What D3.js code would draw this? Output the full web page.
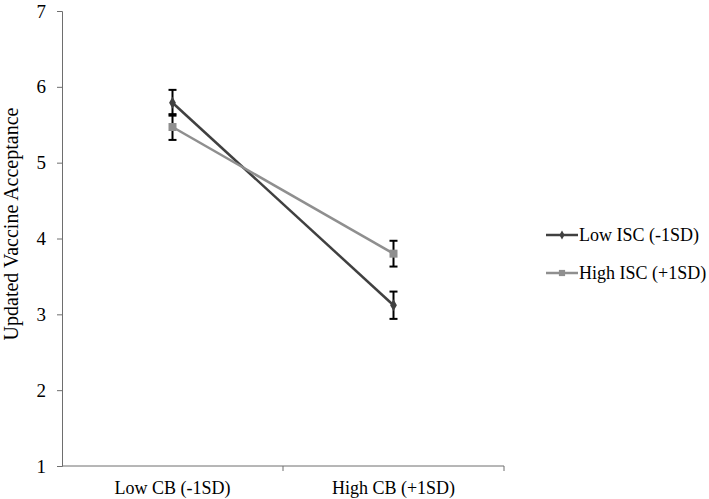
<!DOCTYPE html>
<html>
<head>
<meta charset="utf-8">
<script src="https://cdn.jsdelivr.net/npm/d3@7"></script>
<style>
body { margin: 0; background: #fff; }
text { font-family: "Liberation Serif", "Times New Roman", serif; fill: #000; }
</style>
</head>
<body>
<script>
const categories = ["Low CB (-1SD)", "High CB (+1SD)"];
const seriesNames = ["Low ISC (-1SD)", "High ISC (+1SD)"];
const lowISC = [5.79, 3.12];
const highISC = [5.47, 3.80];
const lowISCErr = [0.17, 0.18];
const highISCErr = [0.17, 0.17];
const yTicks = [1, 2, 3, 4, 5, 6, 7];

const W = 709, H = 499;
const margin = { top: 11, right: 205, bottom: 33, left: 62 };
const width = W - margin.left - margin.right;
const height = H - margin.top - margin.bottom;

const svg = d3.select("body").append("svg")
  .attr("width", W).attr("height", H);
const g = svg.append("g")
  .attr("transform", "translate(" + margin.left + "," + margin.top + ")");

const xScale = d3.scaleBand().domain(categories).range([0, width]);
const yScale = d3.scaleLinear().domain([1, 7]).range([height, 0]);

// y axis
const yAxis = g.append("g")
  .call(d3.axisLeft(yScale).tickValues(yTicks).tickFormat(d3.format("d")).tickSize(5).tickPadding(11));
yAxis.select(".domain").attr("stroke", "#6e6e6e");
yAxis.selectAll(".tick line").attr("stroke", "#6e6e6e");
yAxis.selectAll("text").attr("font-size", 19).attr("font-family", "Liberation Serif");

// x axis with ticks at band edges
const xAxis = g.append("g").attr("transform", "translate(0," + height + ")");
xAxis.append("line").attr("x1", 0).attr("x2", width).attr("stroke", "#6e6e6e");
const edges = [xScale(categories[1]), width];
xAxis.selectAll(".edge").data(edges).enter().append("line")
  .attr("x1", d => d).attr("x2", d => d).attr("y1", 0).attr("y2", 5)
  .attr("stroke", "#6e6e6e");
xAxis.selectAll(".lbl").data(categories).enter().append("text")
  .attr("x", d => xScale(d) + xScale.bandwidth() / 2)
  .attr("y", 28)
  .attr("text-anchor", "middle")
  .attr("font-size", 18)
  .text(d => d);

// y axis title
svg.append("text")
  .attr("transform", "translate(18," + 224 + ") rotate(-90)")
  .attr("text-anchor", "middle")
  .attr("font-size", 20)
  .text("Updated Vaccine Acceptance");

const cx = d => xScale(d) + xScale.bandwidth() / 2;
const series = [
  { name: seriesNames[0], vals: lowISC, err: lowISCErr, color: "#404040", shape: d3.symbolDiamond, size: 40 },
  { name: seriesNames[1], vals: highISC, err: highISCErr, color: "#8f8f8f", shape: d3.symbolSquare, size: 64 }
];

const line = d3.line().x((d, i) => cx(categories[i])).y(d => yScale(d));

series.forEach(s => {
  g.append("path").datum(s.vals)
    .attr("fill", "none").attr("stroke", s.color).attr("stroke-width", 2.5)
    .attr("d", line);
});

// error bars
series.forEach(s => {
  s.vals.forEach((v, i) => {
    const x = cx(categories[i]);
    const eb = g.append("g");
    eb.append("line").attr("x1", x).attr("x2", x)
      .attr("y1", yScale(v - s.err[i])).attr("y2", yScale(v + s.err[i]))
      .attr("stroke", "#000").attr("stroke-width", 2);
    [v - s.err[i], v + s.err[i]].forEach(e => {
      eb.append("line").attr("x1", x - 4).attr("x2", x + 4)
        .attr("y1", yScale(e)).attr("y2", yScale(e))
        .attr("stroke", "#000").attr("stroke-width", 2);
    });
  });
});

// markers
series.forEach(s => {
  g.selectAll(null).data(s.vals).enter().append("path")
    .attr("transform", (d, i) => "translate(" + cx(categories[i]) + "," + yScale(d) + ")")
    .attr("d", d3.symbol().type(s.shape).size(s.size))
    .attr("fill", s.color);
});

// legend
const legend = svg.append("g");
series.forEach((s, i) => {
  const y = 235 + i * 38;
  legend.append("line").attr("x1", 546).attr("x2", 578).attr("y1", y).attr("y2", y)
    .attr("stroke", s.color).attr("stroke-width", 2.5);
  legend.append("path").attr("transform", "translate(562," + y + ")")
    .attr("d", d3.symbol().type(s.shape).size(s.size * 0.6)).attr("fill", s.color);
  legend.append("text").attr("x", 579).attr("y", y + 6)
    .attr("font-size", 18).text(s.name);
});
</script>
</body>
</html>
